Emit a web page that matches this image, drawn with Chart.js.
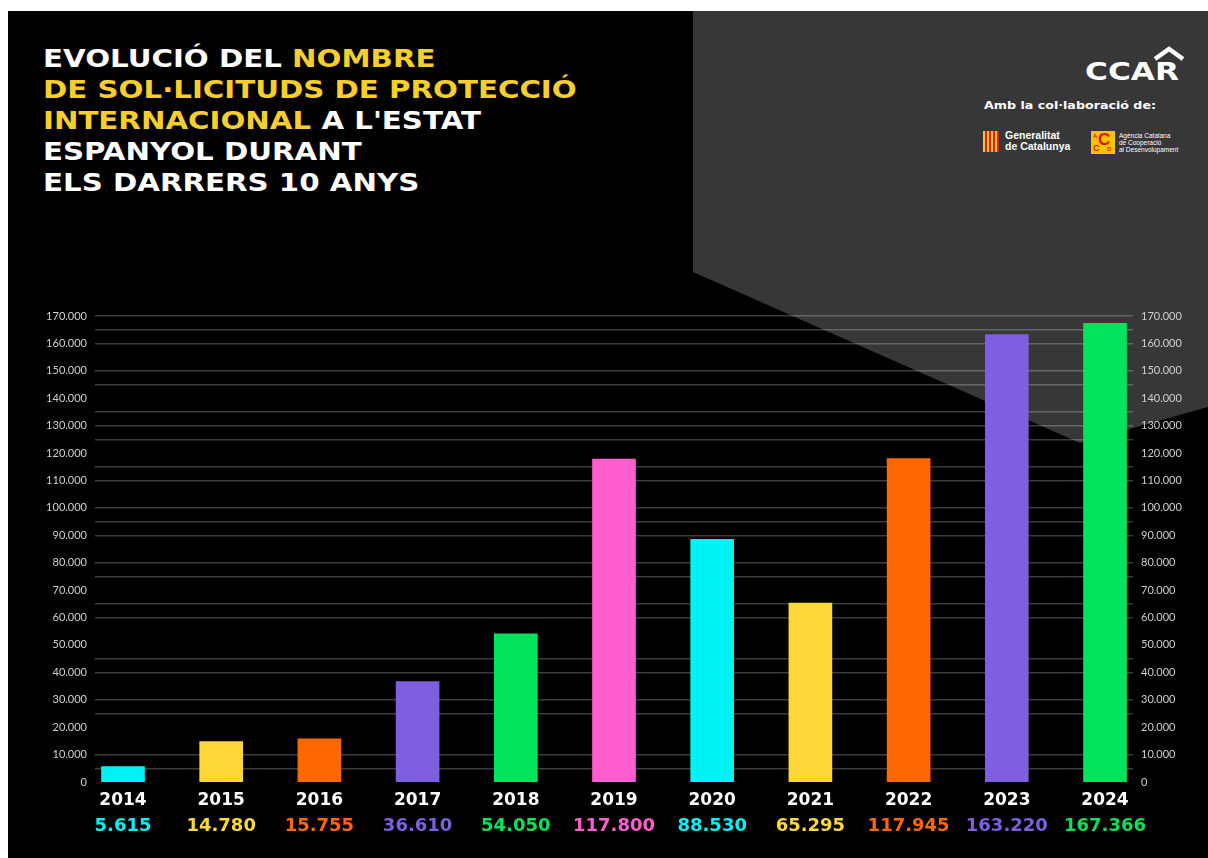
<!DOCTYPE html>
<html lang="ca">
<head>
<meta charset="utf-8">
<title>Sol·licituds de protecció internacional a l'Estat espanyol 2014–2024</title>
<script src="https://cdn.jsdelivr.net/npm/chart.js@4.4.1/dist/chart.umd.min.js"></script>
<style>
  html, body { margin: 0; padding: 0; background: #fff; width: 1208px; height: 858px; overflow: hidden; }
  #panel { position: absolute; left: 8px; top: 11px; width: 1200px; height: 847px; background: #000; }
  #shade { position: absolute; left: 0; top: 0; width: 1208px; height: 858px; background: #373737;
           clip-path: polygon(693px 11px, 1208px 11px, 1208px 407px, 1080px 443px, 693px 272px); }
  canvas { position: absolute; left: 0; top: 0; }
  .title { position: absolute; left: 43px; top: 44px; font-family: "DejaVu Sans"; font-weight: bold;
           font-size: 24px; line-height: 31px; color: #fff; white-space: nowrap;
           transform: scaleX(1.22); transform-origin: 0 0; }
  .title .hl { color: #f6cf2d; }
  .brand { position: absolute; left: 1085px; top: 59px; font-family: "DejaVu Sans"; font-weight: bold;
           font-size: 24px; line-height: 26px; color: #fff; transform: scaleX(1.3); transform-origin: 0 0; }
  .roof { position: absolute; left: 1152px; top: 45px; }
  .collab { position: absolute; left: 984px; top: 99px; font-family: "DejaVu Sans"; font-weight: bold;
            font-size: 11px; line-height: 14px; color: #fff; white-space: nowrap;
            transform: scaleX(1.15); transform-origin: 0 0; }
  .gencat-mark { position: absolute; left: 983px; top: 131px; width: 16px; height: 21px;
                 background: repeating-linear-gradient(90deg, #f2c230 0 2px, #d8202a 2px 4px); }
  .gencat { position: absolute; left: 1005px; top: 130px; font-family: "Liberation Sans"; font-weight: bold;
            font-size: 10.5px; line-height: 11px; color: #fff; white-space: nowrap; }
  .accd-mark { position: absolute; left: 1091px; top: 131px; width: 24px; height: 23px; background: #f5c400;
               font-family: "Liberation Sans"; font-weight: bold; color: #e3141c; }
  .accd-mark span { position: absolute; line-height: 1; }
  .accd { position: absolute; left: 1119px; top: 132px; font-family: "Liberation Sans";
          font-size: 6.5px; line-height: 7px; color: #fff; white-space: nowrap; }
</style>
</head>
<body>
<div id="panel"></div>
<div id="shade"></div>

<div class="title">
  EVOLUCIÓ DEL <span class="hl">NOMBRE</span><br>
  <span class="hl">DE SOL·LICITUDS DE PROTECCIÓ</span><br>
  <span class="hl">INTERNACIONAL</span> A L'ESTAT<br>
  ESPANYOL DURANT<br>
  ELS DARRERS 10 ANYS
</div>

<svg class="roof" width="34" height="16" viewBox="0 0 34 16">
  <polyline points="3,14 17,4 31,14" fill="none" stroke="#fff" stroke-width="4.5" stroke-linejoin="miter"/>
</svg>
<div class="brand">CCAR</div>
<div class="collab">Amb la col·laboració de:</div>

<div class="gencat-mark"></div>
<div class="gencat">Generalitat<br>de Catalunya</div>

<div class="accd-mark">
  <span style="left:2px;top:2px;font-size:6px;">A</span>
  <span style="left:7px;top:0px;font-size:17px;">C</span>
  <span style="left:2px;top:13px;font-size:9px;">C</span>
  <span style="left:16px;top:15px;font-size:6px;">D</span>
</div>
<div class="accd">Agència Catalana<br>de Cooperació<br>al Desenvolupament</div>

<canvas id="chart" width="1208" height="858"></canvas>

<script>
// Sol·licituds de protecció internacional per any
const years = ['2014', '2015', '2016', '2017', '2018', '2019', '2020', '2021', '2022', '2023', '2024'];
const requests = [5615, 14780, 15755, 36610, 54050, 117800, 88530, 65295, 117945, 163220, 167366];
const barColours = ['#00f2f4', '#fdd838', '#ff6700', '#7d5fe0', '#02e35c', '#ff5fce',
                    '#00f2f4', '#fdd838', '#ff6700', '#7d5fe0', '#02e35c'];

// Escala vertical (etiquetes a banda i banda)
const axisTicks = [0, 10000, 20000, 30000, 40000, 50000, 60000, 70000, 80000, 90000,
                   100000, 110000, 120000, 130000, 140000, 150000, 160000, 170000];
// Línies guia horitzontals
const guideLines = [5000, 10000, 25000, 30000, 40000, 45000, 60000, 65000, 75000, 80000,
                    90000, 95000, 100000, 110000, 115000, 125000, 130000, 135000,
                    145000, 150000, 160000, 165000, 170000];

// Separador de milers amb punt
const fmt = v => String(v).replace(/\B(?=(\d{3})+(?!\d))/g, '.');

const yMax = axisTicks[axisTicks.length - 1];
const xMin = -0.285, xMax = years.length - 1 + 0.285;

const tickFont = { family: 'Lato', size: 11 };
const labelFont = { family: 'DejaVu Sans', weight: 'bold', size: 17 };

new Chart(document.getElementById('chart'), {
  type: 'bar',
  data: {
    datasets: [{
      data: requests.map((v, i) => ({ x: i, y: v })),
      backgroundColor: barColours,
      borderWidth: 0,
      barThickness: 43,
      xAxisID: 'x',
      yAxisID: 'y'
    }]
  },
  options: {
    responsive: false,
    animation: false,
    devicePixelRatio: 1,
    layout: { padding: { top: 316, left: 0, right: 0, bottom: 0 } },
    plugins: { legend: { display: false }, tooltip: { enabled: false }, title: { display: false } },
    scales: {
      x: {
        type: 'linear', position: 'bottom', min: xMin, max: xMax, weight: 0, offset: false,
        grid: { display: false, drawTicks: false, offset: false }, border: { display: false },
        afterBuildTicks: s => { s.ticks = years.map((_, i) => ({ value: i })); },
        afterFit: s => { s.height = 30; },
        ticks: { autoSkip: false, maxRotation: 0, padding: 8, color: '#ffffff', font: labelFont,
                 callback: v => years[v] }
      },
      xv: {
        type: 'linear', position: 'bottom', min: xMin, max: xMax, weight: 1, offset: false,
        grid: { display: false, drawTicks: false, offset: false }, border: { display: false },
        afterBuildTicks: s => { s.ticks = requests.map((_, i) => ({ value: i })); },
        afterFit: s => { s.height = 46; },
        ticks: { autoSkip: false, maxRotation: 0, padding: 4,
                 color: c => barColours[c.index],
                 font: { family: 'DejaVu Sans', weight: 'bold', size: 18 },
                 callback: v => fmt(requests[v]) }
      },
      guides: {
        type: 'linear', position: 'left', min: 0, max: yMax, weight: 0,
        afterBuildTicks: s => { s.ticks = guideLines.map(v => ({ value: v })); },
        afterFit: s => { s.width = 0; },
        ticks: { display: false },
        grid: { color: 'rgba(255,255,255,0.24)', lineWidth: 1.5, drawTicks: false },
        border: { display: false }
      },
      y: {
        type: 'linear', position: 'left', min: 0, max: yMax, weight: 1,
        afterBuildTicks: s => { s.ticks = axisTicks.map(v => ({ value: v })); },
        afterFit: s => { s.width = 95; },
        ticks: { padding: 8, color: '#cfcfcf', font: tickFont, callback: v => fmt(v) },
        grid: { display: false, drawTicks: false },
        border: { display: false }
      },
      y2: {
        type: 'linear', position: 'right', min: 0, max: yMax,
        afterBuildTicks: s => { s.ticks = axisTicks.map(v => ({ value: v })); },
        afterFit: s => { s.width = 75; },
        ticks: { padding: 8, color: '#cfcfcf', font: tickFont, callback: v => fmt(v) },
        grid: { display: false, drawTicks: false },
        border: { display: false }
      }
    }
  }
});
</script>
</body>
</html>
